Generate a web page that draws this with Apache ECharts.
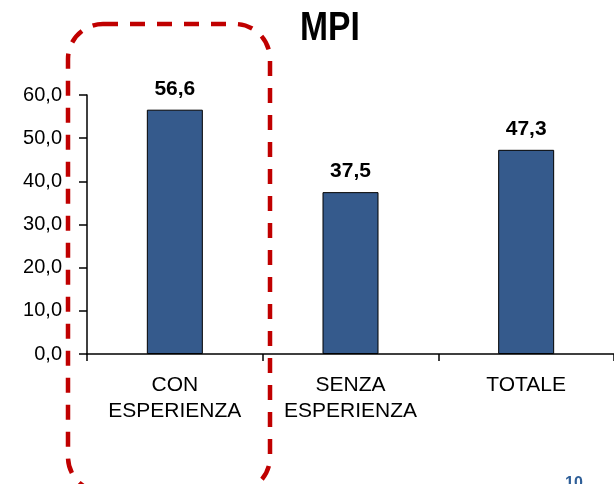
<!DOCTYPE html>
<html>
<head>
<meta charset="utf-8">
<script src="https://cdn.jsdelivr.net/npm/echarts@6/dist/echarts.min.js"></script>
<style>
  html, body { margin: 0; padding: 0; background: #fff; }
  #main { width: 614px; height: 484px; }
</style>
</head>
<body>
<div id="main"></div>
<script>
// dati
const categories = ['CON\nESPERIENZA', 'SENZA\nESPERIENZA', 'TOTALE']
const values = [56.6, 37.5, 47.3]
const yTicks = { min: 0, max: 60, interval: 10 }

const fmt = v => v.toFixed(1).replace('.', ',')

const myChart = echarts.init(document.getElementById('main'))
const option = {
  backgroundColor: '#fff',
  animation: false,
  grid: {
    left: 87,
    top: 95,
    bottom: 130,
    width: 531
  },
  xAxis: {
    type: 'category',
    data: categories,
    axisLine: { lineStyle: { color: '#000', width: 1.5 } },
    axisTick: { show: true, length: 7, lineStyle: { color: '#000', width: 1.5 } },
    axisLabel: {
      color: '#000',
      fontFamily: 'Liberation Sans',
      fontSize: 21,
      lineHeight: 26,
      margin: 18
    }
  },
  yAxis: {
    type: 'value',
    min: yTicks.min,
    max: yTicks.max,
    interval: yTicks.interval,
    splitLine: { show: false },
    axisLine: { show: true, lineStyle: { color: '#000', width: 1.5 } },
    axisTick: { show: true, length: 8, lineStyle: { color: '#000', width: 1.5 } },
    axisLabel: {
      color: '#000',
      fontFamily: 'Liberation Sans',
      fontSize: 20,
      margin: 25,
      formatter: v => fmt(v)
    }
  },
  series: [
    {
      type: 'bar',
      data: values,
      barWidth: 56,
      itemStyle: { color: '#355a8c', borderColor: '#000', borderWidth: 1 },
      label: {
        show: true,
        position: 'top',
        distance: 10,
        color: '#000',
        fontFamily: 'Liberation Sans',
        fontWeight: 'bold',
        fontSize: 21,
        formatter: p => fmt(p.value)
      }
    }
  ],
  graphic: [
    {
      // titolo un po' stretto come nell'originale
      type: 'text',
      x: 330,
      y: 8,
      scaleX: 0.82,
      style: {
        text: 'MPI',
        textAlign: 'center',
        fill: '#000',
        fontFamily: 'Liberation Sans',
        fontWeight: 'bold',
        fontSize: 41
      }
    },
    {
      type: 'rect',
      z: 100,
      shape: { x: 68, y: 24, width: 202, height: 468, r: 35 },
      style: { fill: 'none', stroke: '#c00000', lineWidth: 4.5, lineDash: [15, 12] }
    },
    {
      type: 'text',
      left: 565,
      top: 476,
      style: {
        text: '10',
        fill: '#2f5f98',
        fontFamily: 'Liberation Sans',
        fontWeight: 'bold',
        fontSize: 16
      }
    }
  ]
}
myChart.setOption(option)
</script>
</body>
</html>
